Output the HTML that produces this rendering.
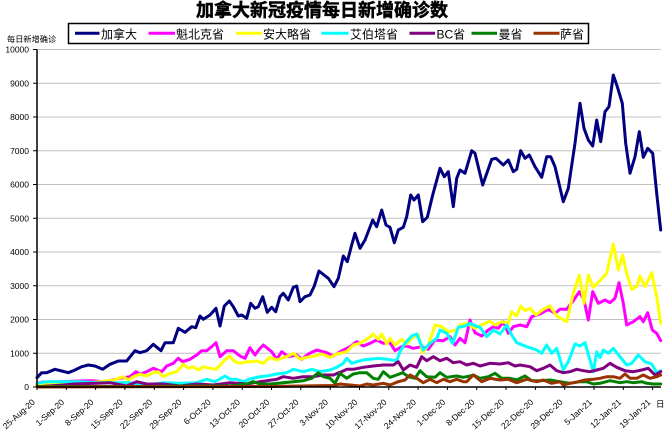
<!DOCTYPE html>
<html><head><meta charset="utf-8"><style>
html,body{margin:0;padding:0;background:#fff;width:664px;height:431px;overflow:hidden}
svg{display:block}
text{font-family:"Liberation Sans","Noto Sans CJK SC",sans-serif;fill:#000}
</style></head><body>
<svg width="664" height="431" viewBox="0 0 664 431" xmlns="http://www.w3.org/2000/svg">
<rect width="664" height="431" fill="#fff"/>
<text x="322" y="16.5" font-size="18" font-weight="bold" text-anchor="middle" stroke="#000" stroke-width="0.5">加拿大新冠疫情每日新增确诊数</text>
<rect x="68.5" y="23.5" width="520" height="20" fill="none" stroke="#000" stroke-width="1.5"/>
<g stroke-width="3">
<line x1="75" y1="33.3" x2="99.5" y2="33.3" stroke="#000080"/>
<line x1="148.5" y1="33.3" x2="175" y2="33.3" stroke="#ff00ff"/>
<line x1="236" y1="33.3" x2="262" y2="33.3" stroke="#ffff00"/>
<line x1="321.5" y1="33.3" x2="348.5" y2="33.3" stroke="#00ffff"/>
<line x1="409.5" y1="33.3" x2="435" y2="33.3" stroke="#800080"/>
<line x1="471.5" y1="33.3" x2="497" y2="33.3" stroke="#008000"/>
<line x1="533.5" y1="33.3" x2="559.5" y2="33.3" stroke="#993300"/>
</g>
<g font-size="12">
<text x="101" y="38.5">加拿大</text>
<text x="176" y="38.5">魁北克省</text>
<text x="263" y="38.5">安大略省</text>
<text x="350" y="38.5">艾伯塔省</text>
<text x="436.5" y="38.5">BC省</text>
<text x="498.5" y="38.5">曼省</text>
<text x="560" y="38.5">萨省</text>
</g>
<text x="7" y="42" font-size="8.2">每日新增确诊</text>
<g stroke="#c0c0c0" stroke-width="1">
<line x1="37" y1="49.5" x2="661" y2="49.5"/>
<line x1="37" y1="83.25" x2="661" y2="83.25"/>
<line x1="37" y1="117" x2="661" y2="117"/>
<line x1="37" y1="150.75" x2="661" y2="150.75"/>
<line x1="37" y1="184.5" x2="661" y2="184.5"/>
<line x1="37" y1="218.25" x2="661" y2="218.25"/>
<line x1="37" y1="252" x2="661" y2="252"/>
<line x1="37" y1="285.75" x2="661" y2="285.75"/>
<line x1="37" y1="319.5" x2="661" y2="319.5"/>
<line x1="37" y1="353.25" x2="661" y2="353.25"/>
</g>
<g stroke="#000" stroke-width="1">
<line x1="33" y1="49.5" x2="37" y2="49.5"/>
<line x1="33" y1="83.25" x2="37" y2="83.25"/>
<line x1="33" y1="117" x2="37" y2="117"/>
<line x1="33" y1="150.75" x2="37" y2="150.75"/>
<line x1="33" y1="184.5" x2="37" y2="184.5"/>
<line x1="33" y1="218.25" x2="37" y2="218.25"/>
<line x1="33" y1="252" x2="37" y2="252"/>
<line x1="33" y1="285.75" x2="37" y2="285.75"/>
<line x1="33" y1="319.5" x2="37" y2="319.5"/>
<line x1="33" y1="353.25" x2="37" y2="353.25"/>
<line x1="33" y1="387" x2="37" y2="387"/>
</g>
<g font-size="8.5" text-anchor="end">
<text x="29" y="52.5">10000</text>
<text x="29" y="86.3">9000</text>
<text x="29" y="120">8000</text>
<text x="29" y="153.8">7000</text>
<text x="29" y="187.5">6000</text>
<text x="29" y="221.3">5000</text>
<text x="29" y="255">4000</text>
<text x="29" y="288.8">3000</text>
<text x="29" y="322.5">2000</text>
<text x="29" y="356.3">1000</text>
<text x="29" y="390">0</text>
</g>
<g fill="none" stroke-width="3" stroke-linejoin="round" stroke-linecap="round">
<polyline stroke="#000080" points="37,377.7 41.7,372.7 46.7,372.7 55,369.3 61.7,371 68.3,372.7 75,370 81.7,366.7 88.3,365 95,366 102.7,369.3 110,364.3 118.3,361 126.7,361 135,350.7 140,352.7 146.7,350.7 153.3,344.3 161,350.7 165,342.7 173.3,342.7 178.3,328.3 185,332.3 191.7,326.7 195.7,327.7 200,316 203.3,319.3 210,315 216,308.3 220,326 224.3,306 229.3,301 233.3,306.7 238.3,316 241.7,315 246.7,318.3 250.7,303.3 255,308.3 258.3,306.7 262.7,296.7 267.3,312.3 271.7,307.3 275.7,311.7 280,296.7 283.3,293.3 288.3,300 293.3,287.3 296.7,286 300,301.7 305,296.7 310,295 314.3,286 319,271 324,275 328.3,278.3 334,286.7 338.3,278.3 343.3,256 347.3,261.7 351.7,245 355,233.3 360,248.3 365,240 372.7,220 376.7,226.7 381.7,210 386,225 390,227.3 394.3,242.7 398.3,230 403.3,227.3 406.7,216.7 410.7,195 414,200 418.3,195 422.7,221.7 427.3,217.3 432.7,195 440,168.3 444.3,176.7 448.3,171.7 453.3,206.7 456.7,178.3 460,170 465,173.3 471.7,150.7 475,153.3 482.7,185 491.7,159.3 496,158.3 503.3,165 508.3,160 513.3,171.7 516.7,169.3 520.7,150.7 525,158.3 529.3,155 535,166.7 541.7,177.3 546.7,156.7 550.7,156.7 555,166.7 563.3,201.7 568.3,188.3 575,143.3 580,103.3 584,128.3 588.3,140 592.7,146 596.7,120 600.7,141.7 605,111.7 609,106.7 613.3,75 617.3,86.7 622.3,103.3 625.7,143.3 630,173.3 635,156.7 639.3,131.7 643.3,157.3 647.7,148.3 652.7,153.3 656.7,193.3 660.7,230"/>
<polyline stroke="#ff00ff" points="37,383.3 43,382 60,381.7 80,381 93,380.7 103,381.7 120,378.3 130,376.7 136,371.7 140,374.3 146.7,371.7 153.3,368.3 161.7,371.7 166.7,366 173.3,363.3 178.3,358.3 182.7,361.7 190,359.3 196.7,355 201.7,350.7 206.7,350.7 211.7,346.7 216,342.7 220,356.7 226.7,350.7 233.3,350.7 240,356 245,358.3 250,347.7 255,355 260,348.3 263.3,345 271.7,351.7 276.7,359.3 281.7,351.7 288.3,356.7 296.7,355 301.7,359.3 308.3,354 316.7,350 326.7,352.7 333.3,356 340,351.7 350,346.7 356.7,341.7 363.3,346 370,343.3 376.7,340 383.3,343.3 390,342.7 395,350.7 401.7,346.7 406.7,346 413.3,348.3 421.7,346.7 428.3,349.3 435,340 443.3,340.7 450,336.7 455,345 460,338.3 465,342.7 470,320 475,332.7 481.7,336 488.3,330 493.3,326.7 498.3,328.3 503.3,321.7 508.3,333.3 513.3,326.7 520,325 526.7,326.7 531.7,316.7 540,314 548.3,309.3 555,313.3 560,309.3 566.7,309.3 573.3,300.7 579.3,291.7 584,300 588.3,320 592.7,291.7 598.3,303.3 605,300 610,302.7 615,298.3 619,282.7 623.3,303.3 626.7,325 633.3,321.7 640,316.7 643.3,321.7 647.7,312.7 652.3,330 656.7,333.3 660.7,340.7"/>
<polyline stroke="#ffff00" points="37,385 80,383.3 100,381.7 113.3,380 123.3,376.7 128.3,380 133.3,376.7 140,374.3 146.7,376 153.3,372.7 158.3,371.7 163.3,376.7 170,373.3 176.7,371.7 183.3,364.3 188.3,368.3 193.3,366.7 198.3,370 203.3,366.7 210,368.3 216,369.3 223.3,361.7 229.3,356 235,361.7 240,363.3 246.7,361.7 251.7,361.7 256.7,361 263.3,363.3 270,357.3 276.7,360 281.7,358.3 288.3,356 293.3,353.3 300,359.3 306.7,357.3 315,356 321.7,354 330,357.3 336.7,354 346.7,351.7 353.3,345 360,343.3 368.3,338.3 373.3,334 378.3,339.3 381.7,334 386.7,344 390,338.3 395,345 401.7,339.3 406.7,344 413.3,336.7 418.3,335 422.7,352.7 428.3,345 435,325 441.7,326.7 448.3,331.7 456.7,330 460,325 466.7,323.3 475,328.3 481.7,325 490,321 495,325 501.7,321.7 508.3,323.3 511.7,311.7 516.7,316 520.7,306 525,310.7 530,308.3 536,315 543.3,309.3 550,306 556.7,316 566.7,321.7 573.3,293.3 579.3,275 584,303.3 588.3,275 593.3,287.3 600,280.7 606.7,273.3 613.3,244 618.3,270 622.7,255 626.7,273.3 631.7,289.3 636.7,286.7 640,276 645,286.7 651.7,272.7 656.7,296.7 660.7,323.3"/>
<polyline stroke="#00ffff" points="37,383.3 46.7,381.7 63.3,381.7 80,381.7 96.7,382.7 113.3,382.7 130,382.7 146.7,385 163.3,382.7 180,383.3 196.7,382.7 206.7,379.3 215,381.7 225,376 230,379.3 236.7,379.3 243.3,381.7 250,379 260,376.7 266.7,376 276.7,374 286.7,372.7 293.3,369.3 303.3,371.7 311.7,369.3 320,371.7 330,370 336.7,367.3 343.3,363.3 346.7,358.3 351.7,363.3 356.7,361.7 363.3,360 370,359.3 378.3,358.3 386.7,359.3 396.7,360.7 400,351.7 405,343.3 411.7,336 416.7,334 423.3,350 430,343.3 436.7,338.3 440,330 446.7,333.3 452.7,343.3 458.3,327.3 465,326 470,323.3 473.3,325 480,327.3 486.7,336.7 493.3,330 500,334 506.7,325 511.7,335 516.7,342.7 526.7,346.7 536.7,350 541.7,353.3 546.7,345 551.7,353.3 556.7,348.3 563.3,370 568.3,361.7 575,344 580,346 585,342.7 593.3,371.7 596.7,351.7 600,357.7 603.3,350 608.3,353.3 613.3,348.3 620,356.7 626.7,365 631.7,363.3 638.3,355 645,361.7 651.7,364 656.7,372.7 660.7,370.7"/>
<polyline stroke="#800080" points="37,386.7 63.3,385 73.3,384 96.7,383.3 110,382.7 126.7,386 136.7,381.7 146.7,384 163.3,384 180,386 196.7,384 213.3,385 230,382.7 246.7,384 260,381.7 266.7,380.7 276.7,379.3 283.3,376.7 293.3,378.3 303.3,376.7 313.3,376.7 323.3,375 333.3,375 341.7,371.7 346.7,369.3 353.3,369.3 363.3,367.3 373.3,366 383.3,365 393.3,365 398.3,361.7 403.3,370 410,365 416.7,367.3 421.7,356.7 426.7,360.7 433.3,356.7 440,360.7 446.7,358.3 453.3,362.7 460,361.7 466.7,365 473.3,363.3 480,366 490,363.3 500,364 508.3,362.7 515,366 520,365 530,366.7 536.7,370.7 543.3,368.3 550,365 556.7,370.7 563.3,372.7 570,371.7 576.7,369.3 583.3,370.7 590,371.7 596.7,370 603.3,368.3 610,363.3 616.7,367.3 625,370.7 633.3,371.7 641.7,370 648.3,368.3 655,375 660.7,371.7"/>
<polyline stroke="#008000" points="37,386.5 150,386.5 180,386 230,386 246.7,384 253.3,381.7 260,384 270,384 283.3,382.7 293.3,381.7 303.3,380.7 311.7,378.3 318.3,372.7 323.3,376.7 330,378.3 335,383.3 340,373.3 346.7,378.3 353.3,374 360,372.7 366.7,372.7 373.3,378.3 378.3,379.3 383.3,371.7 390,377.3 396.7,375 402.7,372.7 408.3,376.7 415,378.3 420,370.7 426.7,376.7 435,377.3 440,372.7 446.7,377.3 456.7,376 463.3,377.3 470,376 473.3,375 480,378.3 488.3,376.7 495,373.3 501.7,378.3 510,378.3 516.7,380 525,376 531.7,380.7 540,380.7 550,380 560,381.7 570,383.3 580,381.7 586.7,381.7 593.3,384 600,383.3 610,380.7 620,382.7 626.7,381.7 633.3,382.7 641.7,381.7 646.7,383.3 653.3,384 660.7,384"/>
<polyline stroke="#993300" points="37,387 270,386.5 300,386 333.3,385.5 340,384 350,385 360,386 366.7,384 373.3,385 383.3,383.3 390,385 398.3,381.7 405,380 410,375 416.7,378.3 423.3,382.7 430,379.3 436.7,382.7 443.3,379.3 450,381.7 456.7,379.3 463.3,381.7 466.7,381.7 473.3,375 481.7,381.7 490,378.3 500,380 508.3,379.3 516.7,382.7 526.7,379.3 536.7,381.7 543.3,380 551.7,383.3 560,381.7 563.3,385 570,383.3 578.3,381.7 585,380 593.3,379.3 600,378.3 606.7,376.7 613.3,376.7 620,378.3 625,374 630,378.3 636.7,378.3 643.3,375 650,378.3 656.7,376.7 660.7,375"/>
</g>
<line x1="37" y1="49.5" x2="37" y2="387" stroke="#000" stroke-width="1.5"/>
<line x1="37" y1="387" x2="661" y2="387" stroke="#000" stroke-width="1.5"/>
<g stroke="#000" stroke-width="1">
<line x1="37" y1="387" x2="37" y2="390"/><line x1="66.3" y1="387" x2="66.3" y2="390"/><line x1="95.6" y1="387" x2="95.6" y2="390"/><line x1="124.9" y1="387" x2="124.9" y2="390"/><line x1="154.3" y1="387" x2="154.3" y2="390"/><line x1="183.6" y1="387" x2="183.6" y2="390"/><line x1="212.9" y1="387" x2="212.9" y2="390"/><line x1="242.2" y1="387" x2="242.2" y2="390"/><line x1="271.5" y1="387" x2="271.5" y2="390"/><line x1="300.8" y1="387" x2="300.8" y2="390"/><line x1="330.2" y1="387" x2="330.2" y2="390"/><line x1="359.5" y1="387" x2="359.5" y2="390"/><line x1="388.8" y1="387" x2="388.8" y2="390"/><line x1="418.1" y1="387" x2="418.1" y2="390"/><line x1="447.4" y1="387" x2="447.4" y2="390"/><line x1="476.7" y1="387" x2="476.7" y2="390"/><line x1="506" y1="387" x2="506" y2="390"/><line x1="535.4" y1="387" x2="535.4" y2="390"/><line x1="564.7" y1="387" x2="564.7" y2="390"/><line x1="594" y1="387" x2="594" y2="390"/><line x1="623.3" y1="387" x2="623.3" y2="390"/><line x1="652.6" y1="387" x2="652.6" y2="390"/>
</g>
<g font-size="8.5" text-anchor="end">
<text transform="translate(35.5,403) rotate(-42)">25-Aug-20</text>
<text transform="translate(64.8,403) rotate(-42)">1-Sep-20</text>
<text transform="translate(94.1,403) rotate(-42)">8-Sep-20</text>
<text transform="translate(123.4,403) rotate(-42)">15-Sep-20</text>
<text transform="translate(152.8,403) rotate(-42)">22-Sep-20</text>
<text transform="translate(182.1,403) rotate(-42)">29-Sep-20</text>
<text transform="translate(211.4,403) rotate(-42)">6-Oct-20</text>
<text transform="translate(240.7,403) rotate(-42)">13-Oct-20</text>
<text transform="translate(270,403) rotate(-42)">20-Oct-20</text>
<text transform="translate(299.3,403) rotate(-42)">27-Oct-20</text>
<text transform="translate(328.7,403) rotate(-42)">3-Nov-20</text>
<text transform="translate(358,403) rotate(-42)">10-Nov-20</text>
<text transform="translate(387.3,403) rotate(-42)">17-Nov-20</text>
<text transform="translate(416.6,403) rotate(-42)">24-Nov-20</text>
<text transform="translate(445.9,403) rotate(-42)">1-Dec-20</text>
<text transform="translate(475.2,403) rotate(-42)">8-Dec-20</text>
<text transform="translate(504.5,403) rotate(-42)">15-Dec-20</text>
<text transform="translate(533.9,403) rotate(-42)">22-Dec-20</text>
<text transform="translate(563.2,403) rotate(-42)">29-Dec-20</text>
<text transform="translate(592.5,403) rotate(-42)">5-Jan-21</text>
<text transform="translate(621.8,403) rotate(-42)">12-Jan-21</text>
<text transform="translate(651.1,403) rotate(-42)">19-Jan-21</text>
</g>
<text x="656" y="407" font-size="8.5">日期</text>
</svg>
</body></html>
